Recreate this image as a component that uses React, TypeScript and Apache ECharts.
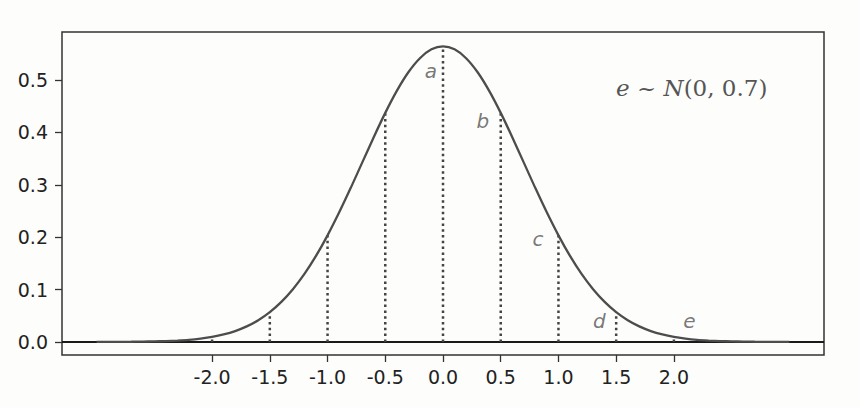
import React, { useEffect, useRef } from "react";
import * as echarts from "echarts";

// Density curve (x from -3 to 3, step 0.1)
const curveX = [
  -3.0, -2.9, -2.8, -2.7, -2.6, -2.5, -2.4, -2.3, -2.2, -2.1,
  -2.0, -1.9, -1.8, -1.7, -1.6, -1.5, -1.4, -1.3, -1.2, -1.1,
  -1.0, -0.9, -0.8, -0.7, -0.6, -0.5, -0.4, -0.3, -0.2, -0.1,
  0.0,
  0.1, 0.2, 0.3, 0.4, 0.5, 0.6, 0.7, 0.8, 0.9, 1.0,
  1.1, 1.2, 1.3, 1.4, 1.5, 1.6, 1.7, 1.8, 1.9, 2.0,
  2.1, 2.2, 2.3, 2.4, 2.5, 2.6, 2.7, 2.8, 2.9, 3.0,
];
const curveY = [
  0.0001, 0.0001, 0.0002, 0.0003, 0.0006, 0.0010, 0.0016, 0.0026, 0.0040, 0.0063,
  0.0095, 0.0142, 0.0207, 0.0296, 0.0414, 0.0568, 0.0764, 0.1006, 0.1298, 0.1641,
  0.2034, 0.2469, 0.2936, 0.3422, 0.3908, 0.4372, 0.4792, 0.5147, 0.5416, 0.5585,
  0.5642,
  0.5585, 0.5416, 0.5147, 0.4792, 0.4372, 0.3908, 0.3422, 0.2936, 0.2469, 0.2034,
  0.1641, 0.1298, 0.1006, 0.0764, 0.0568, 0.0414, 0.0296, 0.0207, 0.0142, 0.0095,
  0.0063, 0.0040, 0.0026, 0.0016, 0.0010, 0.0006, 0.0003, 0.0002, 0.0001, 0.0001,
];

// Dotted drop lines
const dropX = [-2, -1.5, -1, -0.5, 0, 0.5, 1, 1.5, 2];
const dropY = [0.0095, 0.0568, 0.2034, 0.4372, 0.5642, 0.4372, 0.2034, 0.0568, 0.0095];

// Letter annotations
const labelNames = ["a", "b", "c", "d", "e"];
const labelX = [-0.104, 0.346, 0.823, 1.355, 2.134];
const labelY = [0.518, 0.422, 0.196, 0.04, 0.04];

// Ticks
const xTicks = [-2, -1.5, -1, -0.5, 0, 0.5, 1, 1.5, 2];
const yTicks = [0, 0.1, 0.2, 0.3, 0.4, 0.5];

const X_MIN = -3.3;
const X_MAX = 3.3;
const Y_MIN = -0.025;
const Y_MAX = 0.5916;

export default function App() {
  const ref = useRef<HTMLDivElement>(null);

  useEffect(() => {
    if (!ref.current) return;
    const chart = echarts.init(ref.current, undefined, { renderer: "svg" });

    const tickStyle = { color: "#333", width: 1.3 };
    const labelFont = {
      fontFamily: "DejaVu Sans",
      fontSize: 19,
      color: "#222",
    };

    const dropSeries = dropX.map((x, i) => ({
      type: "line",
      data: [
        [x, 0],
        [x, dropY[i]],
      ],
      showSymbol: false,
      silent: true,
      z: 2,
      lineStyle: { color: "#444", width: 2.5, type: [2.5, 3.3], cap: "butt" },
    }));

    const option: any = {
      animation: false,
      backgroundColor: "#fdfdfb",
      title: {
        text: "{i|e}{n| ~ }{i|N}{n|(0, 0.7)}",
        left: 611,
        top: 71,
        textStyle: {
          fontWeight: "normal",
          rich: {
            i: { fontFamily: "DejaVu Serif", fontStyle: "italic", fontWeight: "normal", fontSize: 23, color: "#555" },
            n: { fontFamily: "DejaVu Serif", fontWeight: "normal", fontSize: 23, color: "#555" },
          },
        },
      },
      grid: {
        left: 62,
        right: 36,
        top: 32,
        bottom: 53,
        show: true,
        borderColor: "#333",
        borderWidth: 1.5,
        backgroundColor: "transparent",
      },
      xAxis: {
        type: "value",
        min: X_MIN,
        max: X_MAX,
        axisLine: { show: false, onZero: false },
        splitLine: { show: false },
        axisTick: { show: true, customValues: xTicks, length: 7, lineStyle: tickStyle },
        axisLabel: {
          ...labelFont,
          customValues: xTicks,
          margin: 12,
          formatter: (v: number) => v.toFixed(1),
        },
      },
      yAxis: {
        type: "value",
        min: Y_MIN,
        max: Y_MAX,
        axisLine: { show: false, onZero: false },
        splitLine: { show: false },
        axisTick: { show: true, customValues: yTicks, length: 7, lineStyle: tickStyle },
        axisLabel: {
          ...labelFont,
          customValues: yTicks,
          margin: 14,
          formatter: (v: number) => v.toFixed(1),
        },
      },
      series: [
        {
          type: "line",
          data: [
            [X_MIN, 0],
            [X_MAX, 0],
          ],
          showSymbol: false,
          silent: true,
          z: 1,
          lineStyle: { color: "#1a1a1a", width: 2 },
        },
        ...dropSeries,
        {
          type: "line",
          data: curveX.map((x, i) => [x, curveY[i]]),
          smooth: 0.3,
          showSymbol: false,
          silent: true,
          z: 3,
          lineStyle: { color: "#4d4d4d", width: 2.3 },
        },
        {
          type: "scatter",
          data: labelX.map((x, i) => [x, labelY[i]]),
          symbolSize: 0,
          silent: true,
          z: 4,
          label: {
            show: true,
            position: "inside",
            formatter: (p: any) => labelNames[p.dataIndex],
            fontFamily: "DejaVu Sans",
            fontStyle: "italic",
            fontSize: 20,
            color: "#555",
          },
        },
      ],
    };

    chart.setOption(option);
    return () => chart.dispose();
  }, []);

  return (
    <div
      style={{
        position: "fixed",
        left: 0,
        top: 0,
        width: 860,
        height: 408,
        background: "#fdfdfb",
      }}
    >
      <div ref={ref} style={{ width: 860, height: 408 }} />
    </div>
  );
}
